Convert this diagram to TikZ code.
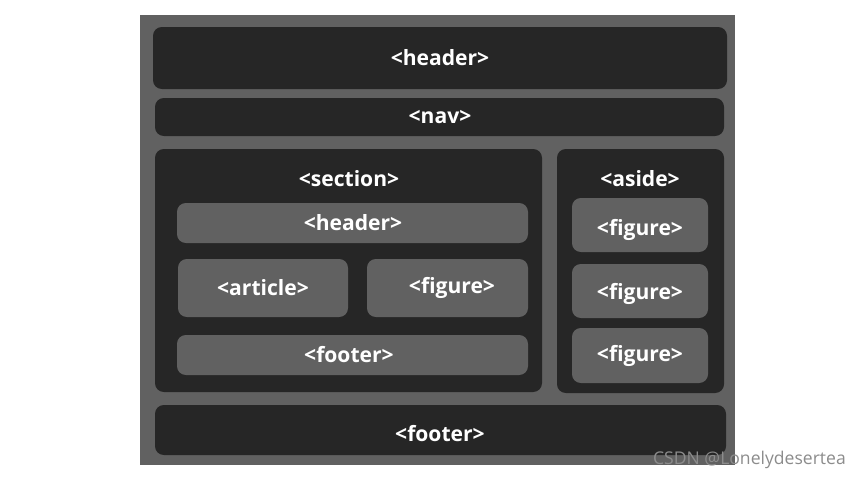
\documentclass[tikz,border=0pt]{standalone}
\usepackage{fontspec}
\setmainfont{Open Sans}
\begin{document}
\begin{tikzpicture}[x=0.02cm,y=-0.02cm,
  dark/.style={fill=black!85,rounded corners=5pt,draw=none},
  lite/.style={fill=black!62,rounded corners=5pt,draw=none},
  lbl/.style={text=white,font=\fontsize{12pt}{14pt}\selectfont\bfseries}]
\useasboundingbox (0,0) rectangle (865,480);
\fill[white] (0,0) rectangle (865,480);
\fill[black!62] (140,15) rectangle (735,465);
\path[dark] (153,27) rectangle (727,89);
\node[lbl] (h) at (440,58) {<header>};
\path[dark] (155,98) rectangle (724,136);
\node[lbl] (n) at (440,117) {<nav>};
\path[dark] (155,149) rectangle (542,392);
\node[lbl] (s) at (349,179) {<section>};
\path[lite] (177,203) rectangle (528,243);
\node[lbl] (sh) at (353,223) {<header>};
\path[lite] (178,259) rectangle (348,317);
\node[lbl] (sa) at (263,288) {<article>};
\path[lite] (367,259) rectangle (528,317);
\node[lbl] (sf) at (452,288) {<figure>};
\path[lite] (177,335) rectangle (528,375);
\node[lbl] (sft) at (349,355) {<footer>};
\path[dark] (557,149) rectangle (724,393);
\node[lbl] (a) at (640,179) {<aside>};
\path[lite] (572,198) rectangle (708,252);
\node[lbl] (f1) at (640,230) {<figure>};
\path[lite] (572,264) rectangle (708,318);
\node[lbl] (f2) at (640,294) {<figure>};
\path[lite] (572,328) rectangle (708,383);
\node[lbl] (f3) at (640,356) {<figure>};
\path[dark] (155,405) rectangle (726,455);
\node[lbl] (ft) at (440,434) {<footer>};
\node[text=black!45,font=\fontsize{10pt}{12pt}\selectfont,anchor=east] (w) at (852,460) {CSDN @Lonelydesertea};
\end{tikzpicture}
\end{document}
